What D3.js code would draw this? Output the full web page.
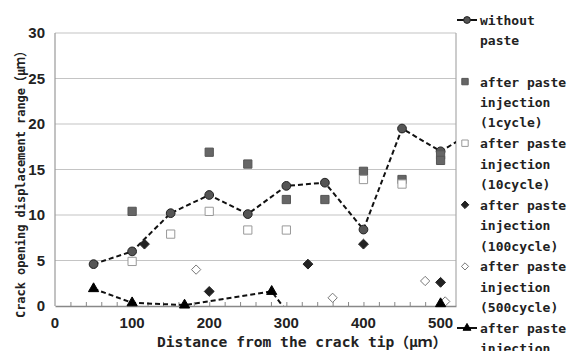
<!DOCTYPE html>
<html>
<head>
<meta charset="utf-8">
<script src="https://cdn.jsdelivr.net/npm/d3@7"></script>
<style>
  html, body { margin: 0; padding: 0; background: #fff; }
  #chart { width: 571px; height: 351px; }
  .tick-label { font-family: "Liberation Sans Narrow", "Liberation Sans", sans-serif; font-size: 15px; font-weight: bold; fill: #222; }
  .axis-title, .legend-text { font-family: "DejaVu Sans Mono", "Noto Sans CJK JP", monospace; font-weight: bold; fill: #222; }
</style>
</head>
<body>
<div id="chart"></div>
<script>
// Data
const xTicks = [0, 100, 200, 300, 400, 500];
const yTicks = [0, 5, 10, 15, 20, 25, 30];

const withoutPasteX = [50, 100, 150, 200, 250, 300, 350, 400, 450, 500, 550];
const withoutPaste = [4.6, 6.0, 10.2, 12.2, 10.1, 13.2, 13.55, 8.4, 19.5, 17.0, 19.5];

const cycle1X = [100, 200, 250, 300, 350, 400, 450, 500, 500];
const cycle1 = [10.4, 16.9, 15.6, 11.7, 11.7, 14.8, 13.9, 16.6, 16.0];

const cycle10X = [100, 150, 200, 250, 300, 400, 450];
const cycle10 = [4.9, 7.9, 10.4, 8.35, 8.35, 13.9, 13.4];

const cycle100X = [116, 200, 328, 400, 500];
const cycle100 = [6.8, 1.6, 4.6, 6.8, 2.6];

const cycle500X = [183, 360, 480, 506];
const cycle500 = [4.0, 0.9, 2.75, 0.5];

const lastX = [50, 100, 168, 281, 300, 400, 500];
const lastSeries = [1.9, 0.35, 0.1, 1.6, -0.55, null, 0.25];

const legendLabels = [
  ['without', 'paste'],
  ['after paste', 'injection', '(1cycle)'],
  ['after paste', 'injection', '(10cycle)'],
  ['after paste', 'injection', '(100cycle)'],
  ['after paste', 'injection', '(500cycle)'],
  ['after paste', 'injection', '(1000cycle)']
];

const width = 571;
const height = 351;
const margin = { top: 33, right: 115, bottom: 45, left: 55 };
const plotW = width - margin.left - margin.right;
const plotH = height - margin.top - margin.bottom;

// Marker styles per series
const styles = [
  { shape: d3.symbolCircle, size: 60, fill: '#555', stroke: '#222', line: true },
  { shape: d3.symbolSquare, size: 68, fill: '#666', stroke: '#555', line: false },
  { shape: d3.symbolSquare, size: 68, fill: '#fff', stroke: '#999', line: false },
  { shape: d3.symbolDiamond2, size: 62, fill: '#222', stroke: '#222', line: false },
  { shape: d3.symbolDiamond2, size: 55, fill: '#fff', stroke: '#777', line: false },
  { shape: d3.symbolTriangle, size: 45, fill: '#000', stroke: '#000', line: true }
];

const series = [
  { x: withoutPasteX, y: withoutPaste },
  { x: cycle1X, y: cycle1 },
  { x: cycle10X, y: cycle10 },
  { x: cycle100X, y: cycle100 },
  { x: cycle500X, y: cycle500 },
  { x: lastX, y: lastSeries }
].map((s, i) => ({
  style: styles[i],
  points: s.x.map((xv, j) => ({ x: xv, y: s.y[j] }))
}));

const svg = d3.select('#chart')
  .append('svg')
  .attr('width', width)
  .attr('height', height)
  .style('display', 'block');

const x = d3.scaleLinear().domain([0, 520]).range([0, plotW]);
const y = d3.scaleLinear().domain([0, 30]).range([plotH, 0]);

const g = svg.append('g')
  .attr('transform', `translate(${margin.left}, ${margin.top})`);

// Clip for the lines that run off the plot
svg.append('defs').append('clipPath')
  .attr('id', 'plot-clip')
  .append('rect')
  .attr('width', plotW)
  .attr('height', plotH);

// Horizontal grid
g.append('g')
  .selectAll('line')
  .data(yTicks.filter(d => d > 0))
  .enter()
  .append('line')
  .attr('x1', 0)
  .attr('x2', plotW)
  .attr('y1', d => y(d))
  .attr('y2', d => y(d))
  .attr('stroke', '#c4c4c4')
  .attr('stroke-width', 1.2);

// Plot frame (right side) and axes
g.append('line')
  .attr('x1', plotW).attr('x2', plotW)
  .attr('y1', 0).attr('y2', plotH)
  .attr('stroke', '#aaa').attr('stroke-width', 1.2);

g.append('line')
  .attr('x1', 0).attr('x2', 0)
  .attr('y1', 0).attr('y2', plotH)
  .attr('stroke', '#999').attr('stroke-width', 1.2);

// X axis with small inward minor ticks every 20
const xAxis = g.append('g')
  .attr('transform', `translate(0, ${plotH})`)
  .call(d3.axisBottom(x)
    .tickValues(d3.range(20, 520, 20))
    .tickSize(-4)
    .tickSizeOuter(0)
    .tickFormat(''));
xAxis.select('.domain').attr('stroke', '#888').attr('stroke-width', 1.5);
xAxis.selectAll('.tick line').attr('stroke', '#888');

// Tick labels
g.append('g')
  .selectAll('text')
  .data(xTicks)
  .enter()
  .append('text')
  .attr('class', 'tick-label')
  .attr('x', d => x(d))
  .attr('y', plotH + 22)
  .attr('text-anchor', 'middle')
  .text(d => d);

g.append('g')
  .selectAll('text')
  .data(yTicks)
  .enter()
  .append('text')
  .attr('class', 'tick-label')
  .attr('x', -10)
  .attr('y', d => y(d) + 5)
  .attr('text-anchor', 'end')
  .text(d => d);

// Axis titles
svg.append('text')
  .attr('class', 'axis-title')
  .attr('x', 157)
  .attr('y', 347)
  .attr('font-size', 14)
  .attr('textLength', 290)
  .attr('lengthAdjust', 'spacingAndGlyphs')
  .text('Distance from the crack tip（μｍ）');

svg.append('text')
  .attr('class', 'axis-title')
  .attr('transform', 'translate(25, 318) rotate(-90)')
  .attr('font-size', 13)
  .attr('textLength', 273)
  .attr('lengthAdjust', 'spacingAndGlyphs')
  .text('Crack opening displacement range（μｍ）');

// Dashed lines
const line = d3.line()
  .defined(d => d.y !== null)
  .x(d => x(d.x))
  .y(d => y(d.y));

g.append('g')
  .attr('clip-path', 'url(#plot-clip)')
  .selectAll('path')
  .data(series.filter(s => s.style.line))
  .enter()
  .append('path')
  .attr('d', d => line(d.points))
  .attr('fill', 'none')
  .attr('stroke', '#111')
  .attr('stroke-width', 2)
  .attr('stroke-dasharray', '5,3');

// Markers, only the ones inside the plot range
series.forEach(s => {
  const pts = s.points.filter(p => p.y !== null && p.y >= 0 && p.x <= 520);
  g.append('g')
    .selectAll('path')
    .data(pts)
    .enter()
    .append('path')
    .attr('transform', p => `translate(${x(p.x)}, ${y(p.y)})`)
    .attr('d', d3.symbol().type(s.style.shape).size(s.style.size))
    .attr('fill', s.style.fill)
    .attr('stroke', s.style.stroke)
    .attr('stroke-width', 1);
});

// Legend on the right
const legend = svg.append('g')
  .attr('transform', 'translate(457, 20)');

const entries = legend.selectAll('g')
  .data(legendLabels)
  .enter()
  .append('g')
  .attr('transform', (d, i) => `translate(0, ${i * 61.6})`);

entries.each(function (d, i) {
  const e = d3.select(this);
  const st = styles[i];
  if (st.line) {
    e.append('line')
      .attr('x1', 0).attr('x2', 20)
      .attr('y1', 0).attr('y2', 0)
      .attr('stroke', '#111')
      .attr('stroke-width', 2);
  }
  e.append('path')
    .attr('transform', `translate(${st.line ? 10 : 8}, 0)`)
    .attr('d', d3.symbol().type(st.shape).size(st.size * 0.6))
    .attr('fill', st.fill)
    .attr('stroke', st.stroke)
    .attr('stroke-width', 1);
  e.selectAll('text')
    .data(d)
    .enter()
    .append('text')
    .attr('class', 'legend-text')
    .attr('font-size', 13)
    .attr('x', 23)
    .attr('y', (t, j) => j * 20.4 + 5)
    .text(t => t);
});
</script>
</body>
</html>
